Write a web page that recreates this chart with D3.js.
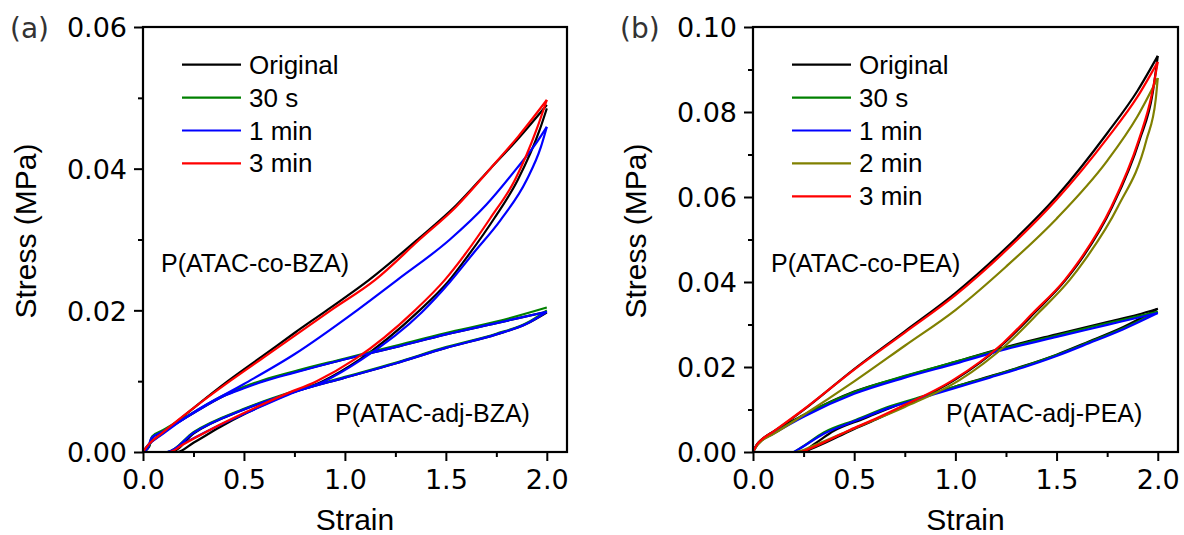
<!DOCTYPE html>
<html>
<head>
<meta charset="utf-8">
<title>stress-strain</title>
<script src="https://d3js.org/d3.v7.min.js"></script>
<style>
  body { margin: 0; background: #fff; }
  svg { display: block; }
</style>
</head>
<body>
<svg width="1184" height="535"></svg>
<script>
// ---- data (strain, stress MPa) ----
const strainTicks = [0, 0.5, 1.0, 1.5, 2.0];
const strainMinor = [0.25, 0.75, 1.25, 1.75];
const stressTicksA = [0, 0.02, 0.04, 0.06];
const stressMinorA = [0.01, 0.03, 0.05];
const stressTicksB = [0, 0.02, 0.04, 0.06, 0.08, 0.10];
const stressMinorB = [0.01, 0.03, 0.05, 0.07, 0.09];
const legendA = ["Original", "30 s", "1 min", "3 min"];
const legendB = ["Original", "30 s", "1 min", "2 min", "3 min"];
const colors = { "Original": "#000000", "30 s": "#008000", "1 min": "#0000ff", "2 min": "#808000", "3 min": "#ff0000" };

// panel (a), P(ATAC-co-BZA)
const aCoOrigLoad = [[0,0],[0.02,0.0008],[0.1,0.0027],[0.25,0.0062],[0.42,0.0100],[0.6,0.0137],[0.75,0.0168],[0.91,0.0200],[1.12,0.0243],[1.36,0.0300],[1.55,0.0348],[1.72,0.0400],[1.86,0.0443],[2.0,0.0490]];
const aCoOrigUnload = [[0,0],[0.17,0],[0.25,0.0013],[0.38,0.0035],[0.52,0.0056],[0.72,0.0082],[0.89,0.0100],[1.07,0.0130],[1.37,0.0200],[1.51,0.0240],[1.62,0.0281],[1.74,0.0330],[1.856,0.0384],[1.965,0.0455],[2.0,0.0485]];
const aCo1minLoad = [[0,0],[0.02,0.0008],[0.1,0.0026],[0.25,0.0056],[0.5,0.0096],[0.75,0.0138],[1.06,0.0200],[1.26,0.0243],[1.52,0.0300],[1.7,0.0349],[1.85,0.0400],[1.95,0.0437],[2.0,0.0459]];
const aCo1minUnload = [[0,0],[0.12,0],[0.2,0.0012],[0.35,0.0034],[0.52,0.0056],[0.72,0.0081],[0.9,0.0100],[1.08,0.0130],[1.38,0.0197],[1.52,0.0240],[1.64,0.0282],[1.77,0.0327],[1.90,0.0384],[1.97,0.0430],[2.0,0.0459]];
const aCo3minLoad = [[0,0],[0.02,0.0008],[0.1,0.0028],[0.25,0.0062],[0.43,0.0100],[0.6,0.0134],[0.75,0.0164],[0.93,0.0200],[1.15,0.0243],[1.37,0.0300],[1.55,0.0346],[1.72,0.0400],[1.86,0.0446],[2.0,0.0497]];
const aCo3minUnload = [[0,0],[0.13,0],[0.2,0.0011],[0.35,0.0034],[0.5,0.0055],[0.7,0.0081],[0.86,0.0100],[1.05,0.0131],[1.347,0.0200],[1.495,0.0243],[1.60,0.0281],[1.72,0.0330],[1.842,0.0384],[1.949,0.0455],[2.0,0.0497]];
// panel (a), P(ATAC-adj-BZA)
const aAdjOrigLoad = [[0,0],[0.03,0.0007],[0.045,0.0020],[0.1,0.0029],[0.25,0.0055],[0.4,0.0079],[0.5,0.0091],[0.6,0.0101],[0.75,0.0113],[1.0,0.0131],[1.25,0.0148],[1.5,0.0166],[1.75,0.0182],[2.0,0.0198]];
const aAdjOrigUnload = [[0,0],[0.14,0],[0.25,0.0026],[0.5,0.0060],[0.75,0.0085],[1.0,0.0105],[1.25,0.0125],[1.5,0.0147],[1.75,0.0166],[1.9,0.0181],[2.0,0.0197]];
const aAdj30sLoad = [[0,0],[0.03,0.0008],[0.045,0.0022],[0.1,0.0031],[0.25,0.0056],[0.4,0.0080],[0.5,0.0092],[0.6,0.0102],[0.75,0.0114],[1.0,0.0132],[1.25,0.0150],[1.5,0.0168],[1.75,0.0184],[2.0,0.0204]];
const aAdj30sUnload = [[0,0],[0.12,0],[0.25,0.0028],[0.5,0.0061],[0.75,0.0086],[1.0,0.0106],[1.25,0.0126],[1.5,0.0148],[1.75,0.0167],[1.9,0.0182],[2.0,0.0200]];
const aAdj1minLoad = [[0,0],[0.025,0.0006],[0.04,0.0019],[0.1,0.0029],[0.25,0.0055],[0.4,0.0079],[0.5,0.0090],[0.6,0.0100],[0.75,0.0112],[1.0,0.0131],[1.25,0.0148],[1.5,0.0166],[1.75,0.0182],[2.0,0.0198]];
const aAdj1minUnload = [[0,0],[0.12,0],[0.25,0.0027],[0.5,0.0060],[0.75,0.0085],[1.0,0.0105],[1.25,0.0125],[1.5,0.0147],[1.75,0.0166],[1.9,0.0181],[2.0,0.0198]];

// panel (b), P(ATAC-co-PEA)
const bCoOrigLoad = [[0,0],[0.02,0.0018],[0.04,0.0028],[0.1,0.0047],[0.25,0.0099],[0.5,0.0195],[0.75,0.0284],[1.0,0.0374],[1.25,0.0480],[1.5,0.0601],[1.75,0.0750],[1.9,0.0850],[2.0,0.0932]];
const bCoOrigUnload = [[0,0],[0.24,0],[0.31,0.0012],[0.49,0.0052],[0.61,0.0077],[0.73,0.0104],[0.995,0.0169],[1.24,0.0256],[1.39,0.0327],[1.545,0.0405],[1.62,0.0452],[1.775,0.0577],[1.91,0.0734],[1.975,0.0845],[2.0,0.0932]];
const bCo30sLoad = [[0,0],[0.02,0.0017],[0.04,0.0027],[0.1,0.0044],[0.25,0.0086],[0.5,0.0141],[0.75,0.0179],[1.0,0.0212],[1.25,0.0245],[1.5,0.0274],[1.75,0.0303],[1.9,0.0319],[2.0,0.0330]];
const bCo1minLoad = [[0,0],[0.02,0.0016],[0.04,0.0026],[0.1,0.0043],[0.25,0.0083],[0.5,0.0137],[0.75,0.0175],[1.0,0.0208],[1.25,0.0242],[1.5,0.0271],[1.75,0.0299],[1.9,0.0316],[2.0,0.0327]];
const bCo2minLoad = [[0,0],[0.02,0.0015],[0.04,0.0025],[0.1,0.0042],[0.25,0.0087],[0.5,0.0166],[0.75,0.0250],[1.0,0.0334],[1.25,0.0436],[1.5,0.0549],[1.75,0.0685],[1.9,0.0790],[2.0,0.0880]];
const bCo2minUnload = [[0,0],[0.21,0],[0.3,0.0015],[0.5,0.0056],[0.75,0.0106],[1.02,0.0169],[1.26,0.0256],[1.41,0.0327],[1.565,0.0405],[1.64,0.0452],[1.803,0.0577],[1.944,0.0734],[1.99,0.0830],[2.0,0.0880]];
const bCo3minLoad = [[0,0],[0.02,0.0018],[0.04,0.0028],[0.1,0.0048],[0.25,0.0100],[0.5,0.0194],[0.75,0.0281],[1.0,0.0369],[1.25,0.0474],[1.5,0.0594],[1.75,0.0738],[1.9,0.0836],[2.0,0.0918]];
const bCo3minUnload = [[0,0],[0.232,0],[0.3,0.0012],[0.479,0.0052],[0.6,0.0077],[0.72,0.0104],[0.988,0.0169],[1.235,0.0256],[1.383,0.0327],[1.541,0.0405],[1.615,0.0452],[1.771,0.0577],[1.906,0.0734],[1.97,0.0840],[2.0,0.0918]];
// panel (b), P(ATAC-adj-PEA)
const bAdjOrigLoad = [[0,0],[0.02,0.0018],[0.05,0.0032],[0.1,0.0048],[0.25,0.0087],[0.5,0.0142],[0.75,0.0178],[1.0,0.0212],[1.25,0.0247],[1.5,0.0277],[1.75,0.0306],[1.9,0.0323],[2.0,0.0337]];
const bAdjOrigUnload = [[0,0],[0.24,0],[0.3,0.0018],[0.4,0.0050],[0.55,0.0079],[0.7,0.0108],[0.85,0.0131],[1.0,0.0154],[1.17,0.0178],[1.335,0.0202],[1.5,0.0229],[1.66,0.0260],[1.83,0.0294],[2.0,0.0337]];
const bAdj30sUnload = [[0,0],[0.2,0],[0.23,0.0008],[0.35,0.0046],[0.51,0.0076],[0.68,0.0108],[0.84,0.0131],[1.0,0.0154],[1.17,0.0177],[1.335,0.0201],[1.5,0.0228],[1.66,0.0258],[1.83,0.0291],[2.0,0.0330]];
const bAdj1minUnload = [[0,0],[0.2,0],[0.22,0.0005],[0.35,0.0043],[0.51,0.0074],[0.68,0.0105],[0.84,0.0128],[1.0,0.0151],[1.17,0.0175],[1.335,0.0199],[1.5,0.0226],[1.66,0.0256],[1.83,0.0289],[2.0,0.0327]];

const seriesA = [
  { name: "Original", load: aAdjOrigLoad, unload: aAdjOrigUnload },
  { name: "Original", load: aCoOrigLoad, unload: aCoOrigUnload },
  { name: "30 s", load: aAdj30sLoad, unload: aAdj30sUnload },
  { name: "1 min", load: aAdj1minLoad, unload: aAdj1minUnload },
  { name: "1 min", load: aCo1minLoad, unload: aCo1minUnload },
  { name: "3 min", load: aCo3minLoad, unload: aCo3minUnload }
];
const seriesB = [
  { name: "Original", load: bCoOrigLoad, unload: bCoOrigUnload },
  { name: "Original", load: bAdjOrigLoad, unload: bAdjOrigUnload },
  { name: "30 s", load: bCo30sLoad, unload: bAdj30sUnload },
  { name: "1 min", load: bCo1minLoad, unload: bAdj1minUnload },
  { name: "2 min", load: bCo2minLoad, unload: bCo2minUnload },
  { name: "3 min", load: bCo3minLoad, unload: bCo3minUnload }
];

const svg = d3.select("svg");
const plotTop = 27, plotBottom = 452;

function drawPanel(p) {
  const g = svg.append("g");
  const x = d3.scaleLinear().domain([0, 2.1]).range([p.left, p.right]);
  const y = d3.scaleLinear().domain([0, p.yMax]).range([plotBottom, plotTop]);

  const clipId = "clip" + p.id;
  svg.append("clipPath").attr("id", clipId)
    .append("rect").attr("x", p.left).attr("y", plotTop)
    .attr("width", p.right - p.left).attr("height", plotBottom - plotTop);

  const line = d3.line().x(d => x(d[0])).y(d => y(d[1])).curve(d3.curveMonotoneX);
  const curves = g.append("g").attr("clip-path", "url(#" + clipId + ")");
  p.series.forEach(s => {
    [s.load, s.unload].forEach(arr => {
      curves.append("path").attr("d", line(arr))
        .attr("fill", "none").attr("stroke", colors[s.name])
        .attr("stroke-width", 2.2).attr("stroke-linejoin", "round");
    });
  });

  // axes
  const xAxis = g.append("g").attr("transform", "translate(0," + plotBottom + ")")
    .call(d3.axisBottom(x).tickValues(strainTicks).tickSize(9).tickPadding(7).tickFormat(d3.format(".1f")));
  g.append("g").attr("transform", "translate(0," + plotBottom + ")")
    .call(d3.axisBottom(x).tickValues(strainMinor).tickSize(5).tickFormat(""));
  const yAxis = g.append("g").attr("transform", "translate(" + p.left + ",0)")
    .call(d3.axisLeft(y).tickValues(p.ticks).tickSize(9).tickPadding(7).tickFormat(d3.format(".2f")));
  g.append("g").attr("transform", "translate(" + p.left + ",0)")
    .call(d3.axisLeft(y).tickValues(p.minor).tickSize(5).tickFormat(""));
  g.selectAll(".domain").remove();
  g.selectAll(".tick line").attr("stroke", "#000").attr("stroke-width", 2);
  g.selectAll(".tick text").attr("fill", "#000")
    .style("font-family", "'DejaVu Sans', sans-serif").style("font-size", "27px");
  xAxis.selectAll(".tick text").attr("dy", "0.76em");
  yAxis.selectAll(".tick text").attr("dy", "0.36em");

  g.append("rect").attr("x", p.left).attr("y", plotTop)
    .attr("width", p.right - p.left).attr("height", plotBottom - plotTop)
    .attr("fill", "none").attr("stroke", "#000").attr("stroke-width", 2.2);

  // titles
  g.append("text").attr("x", (p.left + p.right) / 2).attr("y", 530)
    .attr("text-anchor", "middle").style("font-family", "'Liberation Sans', Arial, sans-serif")
    .style("font-size", "30px").text("Strain");
  g.append("text").attr("transform", "translate(" + (p.left - 107) + ",231) rotate(-90)")
    .attr("text-anchor", "middle").style("font-family", "'Liberation Sans', Arial, sans-serif")
    .style("font-size", "30px").text("Stress (MPa)");
  g.append("text").attr("x", p.left - 133).attr("y", 38)
    .style("font-family", "'DejaVu Sans', sans-serif").style("font-size", "28px")
    .attr("fill", "#333").text(p.tag);

  // legend
  const leg = g.append("g");
  p.legend.forEach((name, i) => {
    const ly = 64.7 + i * 32.9;
    leg.append("line").attr("x1", p.left + 39).attr("x2", p.left + 98)
      .attr("y1", ly).attr("y2", ly).attr("stroke", colors[name]).attr("stroke-width", 2.2);
    leg.append("text").attr("x", p.left + 106).attr("y", ly + 9)
      .style("font-family", "'Liberation Sans', Arial, sans-serif").style("font-size", "26px")
      .text(name);
  });

  // sample labels
  p.notes.forEach(n => {
    g.append("text").attr("x", n.x).attr("y", n.y)
      .style("font-family", "'Liberation Sans', Arial, sans-serif").style("font-size", "25px")
      .text(n.text);
  });
}

drawPanel({
  id: "a", tag: "(a)", left: 143, right: 567, yMax: 0.06,
  ticks: stressTicksA, minor: stressMinorA, legend: legendA, series: seriesA,
  notes: [{ text: "P(ATAC-co-BZA)", x: 161, y: 272 }, { text: "P(ATAC-adj-BZA)", x: 335, y: 422 }]
});
drawPanel({
  id: "b", tag: "(b)", left: 753, right: 1178, yMax: 0.10,
  ticks: stressTicksB, minor: stressMinorB, legend: legendB, series: seriesB,
  notes: [{ text: "P(ATAC-co-PEA)", x: 771, y: 272 }, { text: "P(ATAC-adj-PEA)", x: 946, y: 422 }]
});
</script>
</body>
</html>
